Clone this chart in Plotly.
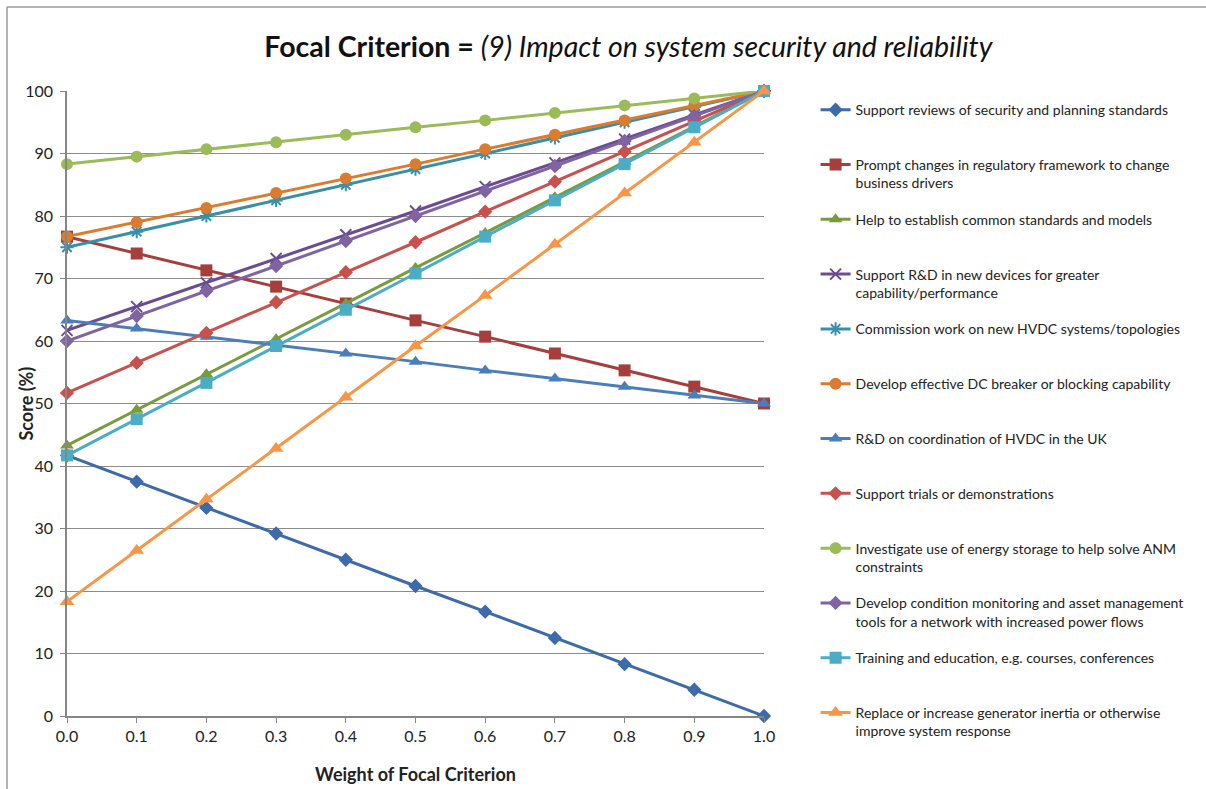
import plotly.graph_objects as go

# Weight given to the focal criterion
weights = [0.0, 0.1, 0.2, 0.3, 0.4, 0.5, 0.6, 0.7, 0.8, 0.9, 1.0]

# Option names (legend labels)
names = [
    "Support reviews of security and planning standards",
    "Prompt changes in regulatory framework to change<br>business drivers",
    "Help to establish common standards and models",
    "Support R&D in new devices for greater<br>capability/performance",
    "Commission work on new HVDC systems/topologies",
    "Develop effective DC breaker or blocking capability",
    "R&D on coordination of HVDC in the UK",
    "Support trials or demonstrations",
    "Investigate use of energy storage to help solve ANM<br>constraints",
    "Develop condition monitoring and asset management<br>tools for a network with increased power flows",
    "Training and education, e.g. courses, conferences",
    "Replace or increase generator inertia or otherwise<br>improve system response",
]

# Score (%) of each option at every weight
support_reviews = [41.7, 37.5, 33.3, 29.2, 25.0, 20.8, 16.7, 12.5, 8.3, 4.2, 0.0]
prompt_changes = [76.7, 74.0, 71.3, 68.7, 66.0, 63.3, 60.7, 58.0, 55.3, 52.7, 50.0]
common_standards = [43.3, 49.0, 54.7, 60.3, 66.0, 71.7, 77.3, 83.0, 88.7, 94.3, 100.0]
rd_new_devices = [61.7, 65.5, 69.3, 73.2, 77.0, 80.8, 84.7, 88.5, 92.3, 96.2, 100.0]
hvdc_topologies = [75.0, 77.5, 80.0, 82.5, 85.0, 87.5, 90.0, 92.5, 95.0, 97.5, 100.0]
dc_breaker = [76.7, 79.0, 81.3, 83.7, 86.0, 88.3, 90.7, 93.0, 95.3, 97.7, 100.0]
hvdc_coordination = [63.3, 62.0, 60.7, 59.3, 58.0, 56.7, 55.3, 54.0, 52.7, 51.3, 50.0]
trials = [51.7, 56.5, 61.3, 66.2, 71.0, 75.8, 80.7, 85.5, 90.3, 95.2, 100.0]
energy_storage = [88.3, 89.5, 90.7, 91.8, 93.0, 94.2, 95.3, 96.5, 97.7, 98.8, 100.0]
condition_monitoring = [60.0, 64.0, 68.0, 72.0, 76.0, 80.0, 84.0, 88.0, 92.0, 96.0, 100.0]
training = [41.7, 47.5, 53.3, 59.2, 65.0, 70.8, 76.7, 82.5, 88.3, 94.2, 100.0]
generator_inertia = [18.3, 26.5, 34.7, 42.8, 51.0, 59.2, 67.3, 75.5, 83.7, 91.8, 100.0]

series = [support_reviews, prompt_changes, common_standards, rd_new_devices,
          hvdc_topologies, dc_breaker, hvdc_coordination, trials,
          energy_storage, condition_monitoring, training, generator_inertia]

colors = ["#3D6AA8", "#A63F3C", "#7A9A3E", "#6A4C93", "#3A8FA8", "#DB7B2F",
          "#4A7EBB", "#C8504D", "#9BBB59", "#8064A2", "#4BACC6", "#F79646"]
symbols = ["diamond", "square", "triangle-up", "x-thin-open", "asterisk-open", "circle",
           "triangle-up", "diamond", "circle", "diamond", "square", "triangle-up"]
sizes = [11, 12, 12, 11, 11, 12, 12, 11, 12, 11, 12, 13]

fig = go.Figure()
for i, (nm, ys) in enumerate(zip(names, series)):
    label = nm if "<br>" in nm else nm + "<br>&nbsp;"
    open_sym = symbols[i].endswith("open")
    fig.add_trace(go.Scatter(
        x=weights, y=ys, name=label, mode="lines+markers",
        legendgroup=f"g{i}",
        line=dict(color=colors[i], width=3),
        marker=dict(symbol=symbols[i], size=sizes[i], color=colors[i],
                    line=dict(color=colors[i], width=2 if open_sym else 0)),
        cliponaxis=False,
    ))

font_family = "Lato, Open Sans, sans-serif"

fig.update_layout(
    width=1206, height=789,
    margin=dict(l=67, r=442, t=91, b=73),
    paper_bgcolor="white", plot_bgcolor="white",
    font=dict(family=font_family, color="#222222", size=16),
    title=dict(
        text="<b>Focal Criterion = </b><i>(9) Impact on system security and reliability</i>",
        x=0.521, xref="container", xanchor="center",
        y=0.94, yref="container", yanchor="middle",
        font=dict(size=28.5, color="#111111"),
    ),
    showlegend=True,
    legend=dict(
        x=1.074, xanchor="left", y=0.995, yanchor="top",
        font=dict(size=14, color="#222222"),
        valign="top", traceorder="grouped", tracegroupgap=15.4,
        bgcolor="rgba(0,0,0,0)", itemwidth=30, maxheight=1000,
    ),
    xaxis=dict(
        range=[0, 1], tickvals=weights, tickformat=".1f",
        showgrid=False, zeroline=False, automargin=False,
        showline=True, linecolor="#868686", linewidth=1.5,
        ticks="outside", ticklen=5, tickcolor="#868686",
        tickfont=dict(size=16),
        title=dict(text="<b>Weight of Focal Criterion</b>", font=dict(size=18), standoff=24),
    ),
    yaxis=dict(
        range=[0, 100], dtick=10,
        showgrid=True, gridcolor="#8C8C8C", gridwidth=1,
        zeroline=False, automargin=False,
        showline=True, linecolor="#868686", linewidth=1.5,
        ticks="outside", ticklen=5, tickcolor="#868686",
        ticklabelstandoff=4,
        tickfont=dict(size=16),
    ),
    annotations=[
        dict(text="<b>Score (%)</b>", textangle=-90,
             xref="paper", yref="y", x=(25 - 67) / 697, y=50,
             xanchor="center", yanchor="middle", showarrow=False,
             font=dict(size=18, color="#222222")),
    ],
    shapes=[
        dict(type="line", xref="paper", yref="paper",
             x0=(7 - 67) / 697, x1=(1206 - 67) / 697,
             y0=(716 - 7) / 625, y1=(716 - 7) / 625,
             line=dict(color="#9A9A9A", width=1.5)),
        dict(type="line", xref="paper", yref="paper",
             x0=(7 - 67) / 697, x1=(7 - 67) / 697,
             y0=(716 - 7) / 625, y1=(716 - 800) / 625,
             line=dict(color="#9A9A9A", width=1.5)),
    ],
)

fig.write_html("out.html")
